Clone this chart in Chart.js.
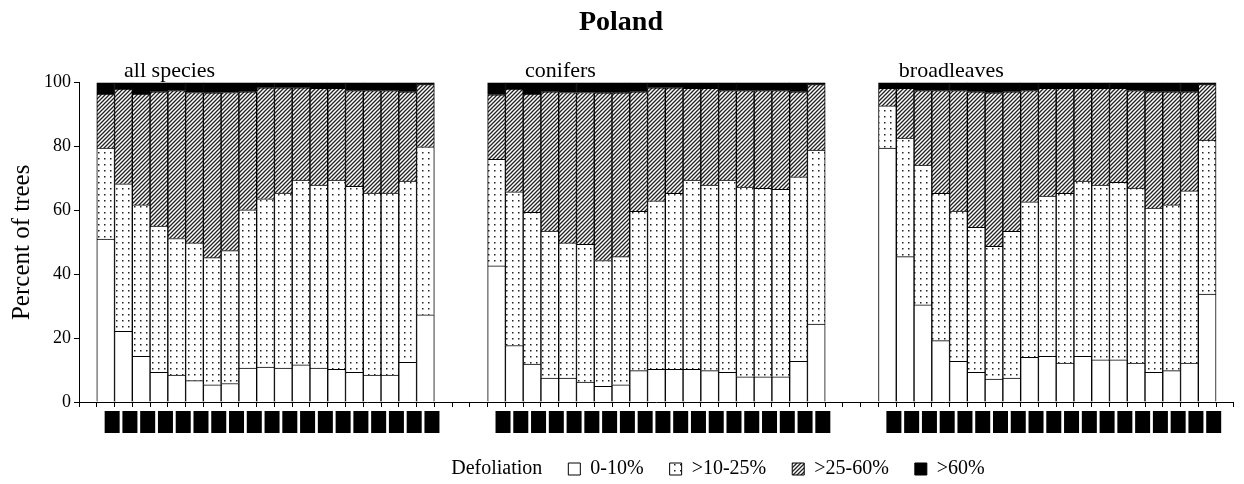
<!DOCTYPE html>
<html lang="en">
<head>
<meta charset="UTF-8">
<title>Poland - defoliation by species group</title>
<script src="https://cdn.jsdelivr.net/npm/chart.js"></script>
<style>
    body { margin: 0; background: #fff; }
    #wrap { width: 1244px; height: 484px; }
</style>
</head>
<body>
<div id="wrap"><canvas id="defoliationChart"></canvas></div>
<script>
    // survey years under each group
    const years = ['1989', '1990', '1991', '1992', '1993', '1994', '1995', '1996', '1997', '1998',
                   '1999', '2000', '2001', '2002', '2003', '2004', '2005', '2006', '2007'];
    const groupNames = ['all species', 'conifers', 'broadleaves'];
    const classNames = ['0-10%', '>10-25%', '>25-60%', '>60%'];
    const legendTitle = 'Defoliation';

    // percent of trees per defoliation class
    const allClass1 = [51.0, 22.1, 14.3, 9.3, 8.4, 6.7, 5.4, 5.8, 10.6, 10.9, 10.6, 11.6, 10.6, 10.2, 9.3, 8.4, 8.4, 12.4, 27.3];
    const allClass2 = [28.5, 46.2, 47.4, 45.8, 42.8, 43.1, 39.8, 41.6, 49.6, 52.7, 54.8, 57.9, 57.3, 59.3, 58.2, 57.0, 57.0, 56.8, 52.6];
    const allClass3 = [16.9, 29.7, 34.7, 42.0, 46.3, 47.1, 51.6, 49.5, 36.9, 34.8, 33.0, 28.9, 30.3, 28.7, 30.0, 32.1, 32.1, 27.9, 19.5];
    const allClass4 = [3.6, 2.0, 3.6, 2.9, 2.5, 3.1, 3.2, 3.1, 2.9, 1.6, 1.6, 1.6, 1.8, 1.8, 2.5, 2.5, 2.5, 2.9, 0.6];

    const conClass1 = [42.6, 17.7, 11.9, 7.5, 7.5, 6.2, 4.9, 5.4, 9.8, 10.2, 10.2, 10.2, 9.8, 9.3, 7.9, 7.9, 7.9, 12.7, 24.4];
    const conClass2 = [33.4, 48.1, 47.5, 46.0, 42.3, 43.2, 39.4, 40.1, 49.9, 52.8, 55.1, 59.3, 58.1, 60.2, 59.4, 59.0, 58.7, 57.8, 54.5];
    const conClass3 = [20.2, 32.2, 37.0, 43.6, 47.1, 47.5, 52.5, 51.3, 37.4, 35.4, 33.1, 28.7, 30.3, 28.0, 30.2, 30.6, 30.9, 26.6, 20.5];
    const conClass4 = [3.8, 2.0, 3.6, 2.9, 3.1, 3.1, 3.2, 3.2, 2.9, 1.6, 1.6, 1.8, 1.8, 2.5, 2.5, 2.5, 2.5, 2.9, 0.6];

    const brClass1 = [79.5, 45.5, 30.4, 19.2, 12.7, 9.3, 7.2, 7.5, 14.0, 14.3, 12.2, 14.3, 13.2, 13.2, 12.2, 9.3, 9.8, 12.2, 33.8];
    const brClass2 = [13.2, 37.1, 43.8, 46.1, 47.1, 45.4, 41.5, 45.9, 48.7, 50.2, 53.1, 54.9, 54.7, 55.6, 54.8, 51.4, 51.9, 53.9, 48.2];
    const brClass3 = [5.5, 15.6, 23.3, 32.2, 37.7, 42.4, 48.1, 43.7, 34.8, 33.7, 32.9, 29.0, 30.3, 29.4, 30.5, 36.4, 35.4, 31.0, 17.4];
    const brClass4 = [1.8, 1.8, 2.5, 2.5, 2.5, 2.9, 3.2, 2.9, 2.5, 1.8, 1.8, 1.8, 1.8, 1.8, 2.5, 2.9, 2.9, 2.9, 0.6];

    // one empty slot at each end, three empty slots between groups
    const gapOuter = 1;
    const gapInner = 3;

    function joinGroups(a, b, c, filler) {
        const pad = n => Array(n).fill(filler);
        return [...pad(gapOuter), ...a, ...pad(gapInner), ...b, ...pad(gapInner), ...c, ...pad(gapOuter)];
    }

    const labels = joinGroups(years, years, years, '');
    const groupStarts = [gapOuter, gapOuter + years.length + gapInner, gapOuter + 2 * (years.length + gapInner)];

    function dotPattern() {
        const c = document.createElement('canvas');
        c.width = 6; c.height = 6;
        const g = c.getContext('2d');
        g.fillStyle = '#fff';
        g.fillRect(0, 0, 6, 6);
        g.fillStyle = '#222';
        g.fillRect(2, 2, 1.5, 1.5);
        return g.createPattern(c, 'repeat');
    }

    function hatchPattern() {
        const s = 4;
        const c = document.createElement('canvas');
        c.width = s; c.height = s;
        const g = c.getContext('2d');
        g.fillStyle = '#fff';
        g.fillRect(0, 0, s, s);
        g.strokeStyle = '#222';
        g.lineWidth = 1.3;
        g.beginPath();
        g.moveTo(0, s); g.lineTo(s, 0);
        g.moveTo(-1, 1); g.lineTo(1, -1);
        g.moveTo(s - 1, s + 1); g.lineTo(s + 1, s - 1);
        g.stroke();
        return g.createPattern(c, 'repeat');
    }

    const fills = ['#ffffff', dotPattern(), hatchPattern(), '#000000'];
    const series = [
        joinGroups(allClass1, conClass1, brClass1, null),
        joinGroups(allClass2, conClass2, brClass2, null),
        joinGroups(allClass3, conClass3, brClass3, null),
        joinGroups(allClass4, conClass4, brClass4, null)
    ];

    // group captions just above the plot
    const panelTitles = {
        id: 'panelTitles',
        afterDraw(chart) {
            const { ctx, chartArea, scales } = chart;
            ctx.save();
            ctx.font = '22px "Liberation Serif"';
            ctx.fillStyle = '#000';
            ctx.textAlign = 'center';
            ctx.textBaseline = 'alphabetic';
            groupNames.forEach((name, i) => {
                ctx.fillText(name, scales.x.getPixelForValue(groupStarts[i] + 3.6), chartArea.top - 6);
            });
            ctx.restore();
        }
    };

    // legend row sits right of centre in the original
    const legendShift = {
        id: 'legendShift',
        afterLayout(chart) {
            chart.legend.left += 86;
            chart.legend.right += 86;
        }
    };

    Chart.defaults.font.family = '"Liberation Serif", "Times New Roman", serif';
    Chart.defaults.color = '#000';

    const ctx = document.getElementById('defoliationChart').getContext('2d');

    const defoliationChart = new Chart(ctx, {
        type: 'bar',
        data: {
            labels: labels,
            datasets: classNames.map((name, i) => ({
                label: name,
                data: series[i],
                backgroundColor: fills[i],
                borderColor: '#000',
                borderWidth: 1,
                categoryPercentage: 1,
                barPercentage: 1
            }))
        },
        options: {
            responsive: true,
            maintainAspectRatio: false,
            animation: false,
            layout: {
                padding: { left: 3, right: 5, top: 0, bottom: -5 }
            },
            scales: {
                x: {
                    stacked: true,
                    // year blocks may overlap the legend's padding
                    afterFit: scale => { scale.height -= 12; },
                    grid: {
                        offset: true,
                        drawOnChartArea: false,
                        color: '#000',
                        tickLength: 5
                    },
                    border: { color: '#000' },
                    ticks: {
                        autoSkip: false,
                        minRotation: 90,
                        maxRotation: 90,
                        padding: 6,
                        font: { size: 13, lineHeight: 1 },
                        color: '#000',
                        showLabelBackdrop: c => c.tick && c.tick.label !== '',
                        backdropColor: '#000',
                        backdropPadding: { x: 2, y: 1 }
                    }
                },
                y: {
                    stacked: true,
                    min: 0,
                    max: 100,
                    grid: {
                        drawOnChartArea: false,
                        color: '#000',
                        tickLength: 5
                    },
                    border: { color: '#000' },
                    ticks: {
                        stepSize: 20,
                        padding: 3,
                        font: { size: 18 }
                    },
                    title: {
                        display: true,
                        text: 'Percent of trees',
                        font: { size: 25 },
                        padding: { top: 4, bottom: 4 }
                    }
                }
            },
            plugins: {
                title: {
                    display: true,
                    text: 'Poland',
                    font: { size: 28, weight: 'bold' },
                    padding: { top: 6, bottom: 43 }
                },
                legend: {
                    position: 'bottom',
                    labels: {
                        boxWidth: 12,
                        boxHeight: 12,
                        padding: 26,
                        font: { size: 20 },
                        generateLabels(chart) {
                            const items = Chart.defaults.plugins.legend.labels.generateLabels(chart);
                            items.unshift({
                                text: legendTitle,
                                fillStyle: 'rgba(0,0,0,0)',
                                strokeStyle: 'rgba(0,0,0,0)',
                                lineWidth: 0,
                                hidden: false
                            });
                            return items;
                        }
                    }
                },
                tooltip: { enabled: false }
            }
        },
        plugins: [panelTitles, legendShift]
    });
</script>
</body>
</html>
